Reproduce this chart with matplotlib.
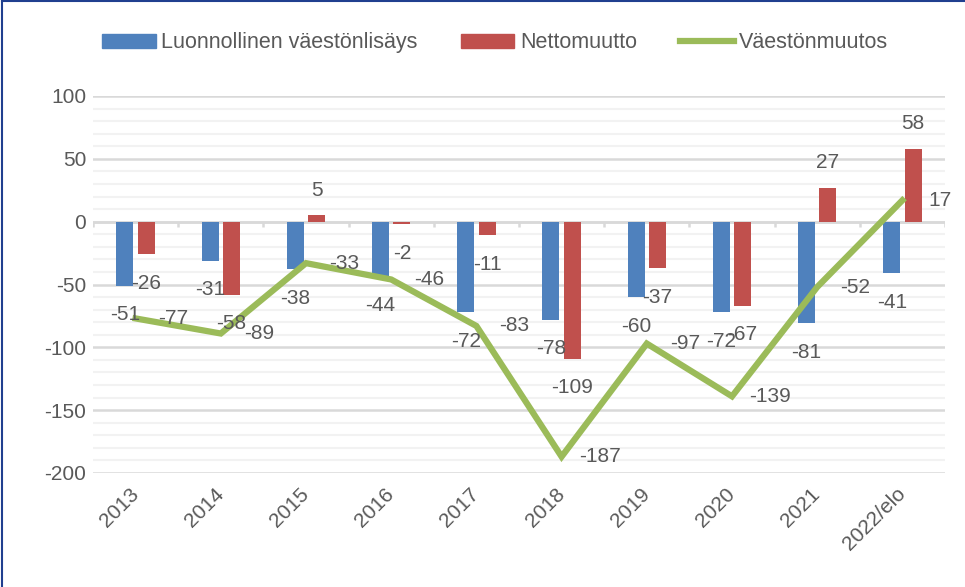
import matplotlib
matplotlib.use("Agg")
import matplotlib.pyplot as plt
import numpy as np
from matplotlib.patches import Patch
from matplotlib.lines import Line2D

# data
vuodet = ["2013", "2014", "2015", "2016", "2017", "2018", "2019", "2020", "2021", "2022/elo"]
luonnollinen = [-51, -31, -38, -44, -72, -78, -60, -72, -81, -41]
nettomuutto = [-26, -58, 5, -2, -11, -109, -37, -67, 27, 58]
vaestonmuutos = [-77, -89, -33, -46, -83, -187, -97, -139, -52, 17]

sininen = "#4F81BD"
punainen = "#C0504D"
vihrea = "#9BBB59"
teksti = "#595959"

plt.rcParams['font.family'] = ['Liberation Sans', 'DejaVu Sans']
plt.rcParams['axes.unicode_minus'] = False

fig = plt.figure(figsize=(9.65, 5.87), dpi=100)
ax = fig.add_axes([93 / 965, 1 - 473 / 587, (945 - 93) / 965, 377 / 587])

x = np.arange(len(vuodet))
lev = 0.2
ax.bar(x - 0.125, luonnollinen, lev, color=sininen, zorder=3)
ax.bar(x + 0.125, nettomuutto, lev, color=punainen, zorder=3)
ax.plot(x, vaestonmuutos, color=vihrea, lw=4.5, zorder=4, solid_joinstyle='miter')

ax.set_xlim(-0.5, len(vuodet) - 0.5)
ax.set_ylim(-200, 100)
ax.set_yticks(np.arange(-200, 101, 50))
ax.set_yticks(np.arange(-200, 101, 10), minor=True)
ax.grid(axis='y', which='minor', color="#F2F2F2", lw=1.5, zorder=0)
ax.grid(axis='y', which='major', color="#D9D9D9", lw=1.8, zorder=1)
ax.tick_params(axis='y', which='both', length=0, labelsize=15, labelcolor=teksti, pad=5)
ax.tick_params(axis='x', length=0, labelsize=15, labelcolor=teksti, pad=13)
ax.set_xticks(x)
ax.set_xticklabels(vuodet, rotation=45, ha='right', va='center', rotation_mode='anchor')
for s in ax.spines.values():
    s.set_visible(False)

# nollaviiva ja rajat
ax.axhline(0, color="#D9D9D9", lw=1.8, zorder=2)
ax.vlines(np.arange(-0.5, len(vuodet)), -4, 0, color="#D9D9D9", lw=1.8, zorder=2)

# arvot
for i in range(len(vuodet)):
    v = luonnollinen[i]
    ax.annotate(str(v), (x[i] - 0.125, v), xytext=(0, -29 if v < 0 else 25), textcoords='offset pixels',
                ha='center', va='center', fontsize=15, color=teksti, zorder=6, annotation_clip=False)
    v = nettomuutto[i]
    ax.annotate(str(v), (x[i] + 0.125, v), xytext=(0, -29 if v < 0 else 25), textcoords='offset pixels',
                ha='center', va='center', fontsize=15, color=teksti, zorder=6, annotation_clip=False)
    v = vaestonmuutos[i]
    ax.annotate(str(v), (x[i], v), xytext=(38, 0), textcoords='offset pixels',
                ha='center', va='center', fontsize=15, color=teksti, zorder=6, annotation_clip=False)

kahvat = [Patch(color=sininen), Patch(color=punainen), Line2D([0], [0], color=vihrea, lw=4.5)]
fig.legend(kahvat, ["Luonnollinen väestönlisäys", "Nettomuutto", "Väestönmuutos"],
           loc='center', bbox_to_anchor=(0.513, 0.927), ncol=3, frameon=False,
           fontsize=15.5, labelcolor=teksti, handlelength=2.5, handleheight=0.6,
           handletextpad=0.25, columnspacing=2.0)

# kehys
fig.add_artist(Line2D([0.002, 0.002], [0, 0.998], transform=fig.transFigure, color="#203F8F", lw=1.5))
fig.add_artist(Line2D([0.002, 1], [0.998, 0.998], transform=fig.transFigure, color="#203F8F", lw=1.5))

fig.savefig("out.png", dpi=100)
